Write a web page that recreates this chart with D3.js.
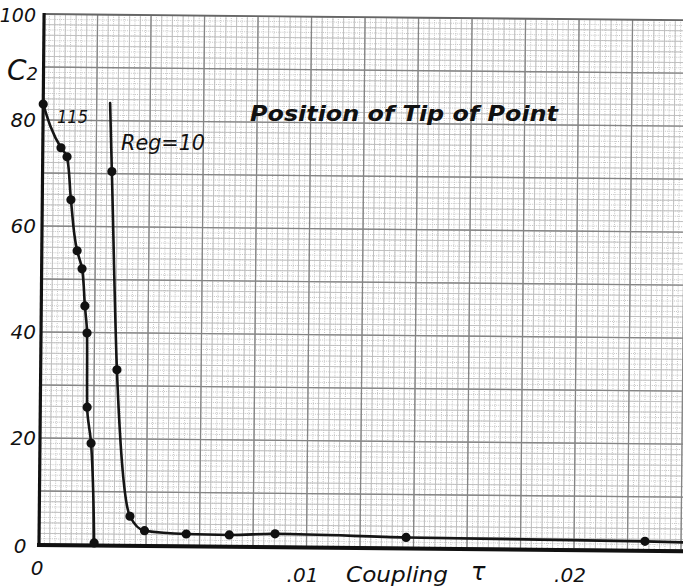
<!DOCTYPE html>
<html><head><meta charset="utf-8">
<script src="https://cdn.jsdelivr.net/npm/d3@7"></script>
<style>
html,body{margin:0;padding:0;background:#fff;}
svg{display:block;}
text{font-family:"DejaVu Sans",sans-serif;font-style:oblique;fill:#111;}
</style></head><body>
<svg id="chart" width="683" height="587"></svg>
<script>
// ---- data ----
const series115Tau = [0, 0.00068, 0.00091, 0.00107, 0.00132, 0.00151, 0.00163, 0.00172, 0.00175, 0.00191, 0.00206];
const series115C2  = [83.0, 74.8, 73.1, 65.0, 55.4, 52.0, 45.0, 39.9, 25.9, 19.1, 0.3];
const series115Marked = [true, true, true, true, true, true, true, true, true, true, true];

const reg10Tau = [0.00250, 0.00259, 0.00285, 0.00339, 0.00394, 0.00550, 0.00711, 0.00882, 0.01372, 0.02265, 0.0250];
const reg10C2  = [83.3, 70.4, 33.0, 5.4, 2.7, 2.15, 2.05, 2.35, 1.9, 1.6, 1.4];
const reg10Marked = [false, true, true, true, true, true, true, true, true, true, false];

const yTickValues = [0, 20, 40, 60, 80, 100];
const yTickLabels = ["0", "20", "40", "60", "80", "100"];
const xTickValues = [0.01, 0.02];
const xTickLabels = [".01", ".02"];
const xTitle = "Coupling";
const xSymbol = "τ";
const yTitle = "C";
const ySub = "2";
const noteTitle = "Position of Tip of Point";
const label115 = "115";
const labelReg = "Reg=10";

// ---- layout ----
const svg = d3.select("#chart");
const ox = 39, oy = 544;
const x = d3.scaleLinear().domain([0, 0.01]).range([ox, ox + 267.5]);
const y = d3.scaleLinear().domain([0, 100]).range([oy, oy - 530]);
const xMax = 0.0262;

const defs = svg.append("defs");
defs.append("clipPath").attr("id", "plotclip")
  .append("rect").attr("x", ox).attr("y", y(100)).attr("width", x(xMax) - ox).attr("height", oy - y(100));

const g = svg.append("g").attr("transform", `rotate(0.55, ${ox}, ${oy})`);
const grid = g.append("g").attr("clip-path", "url(#plotclip)");

// grid lines: fine (dotted), minor, major
const fineX = d3.range(0, 131).map(i => i * 0.0002);
const minorX = d3.range(0, 66).map(i => i * 0.0004);
const majorX = d3.range(0, 14).map(i => i * 0.002);
const fineY = d3.range(0, 101);
const minorY = d3.range(0, 51).map(i => i * 2);
const majorY = d3.range(0, 11).map(i => i * 10);

function vlines(vals, color, w, dash) {
  grid.append("g").selectAll("line").data(vals).join("line")
    .attr("x1", d => x(d)).attr("x2", d => x(d))
    .attr("y1", y(100)).attr("y2", oy)
    .attr("stroke", color).attr("stroke-width", w)
    .attr("stroke-dasharray", dash || null);
}
function hlines(vals, color, w, dash) {
  grid.append("g").selectAll("line").data(vals).join("line")
    .attr("x1", ox).attr("x2", x(xMax))
    .attr("y1", d => y(d)).attr("y2", d => y(d))
    .attr("stroke", color).attr("stroke-width", w)
    .attr("stroke-dasharray", dash || null);
}
vlines(fineX, "#c4c4c4", 1, "1,1.13");
hlines(fineY, "#c4c4c4", 1, "1,1.13");
vlines(minorX, "#bdbdbd", 0.9);
hlines(minorY, "#bdbdbd", 0.9);
vlines(majorX, "#858585", 1.3);
hlines(majorY, "#858585", 1.3);

// frame
g.append("line").attr("x1", ox).attr("x2", x(xMax)).attr("y1", y(100)).attr("y2", y(100))
  .attr("stroke", "#666").attr("stroke-width", 1.8);
g.append("line").attr("x1", ox).attr("x2", ox).attr("y1", y(100) - 1).attr("y2", oy + 2)
  .attr("stroke", "#111").attr("stroke-width", 3.2);
g.append("line").attr("x1", ox - 2).attr("x2", x(xMax)).attr("y1", oy + 1).attr("y2", oy + 1)
  .attr("stroke", "#111").attr("stroke-width", 4);

// curves
const lineY = d3.line().x(d => x(d[0])).y(d => y(d[1])).curve(d3.curveMonotoneY);
const lineX = d3.line().x(d => x(d[0])).y(d => y(d[1])).curve(d3.curveMonotoneX);
const s115 = series115Tau.map((t, i) => [t, series115C2[i], series115Marked[i]]);
const sReg = reg10Tau.map((t, i) => [t, reg10C2[i], reg10Marked[i]]);

[[s115, lineY], [sReg, lineX]].forEach(([s, ln]) => {
  g.append("path").datum(s).attr("d", ln)
    .attr("fill", "none").attr("stroke", "#151515").attr("stroke-width", 2.6)
    .attr("stroke-linejoin", "round").attr("stroke-linecap", "round");
  g.append("g").selectAll("circle").data(s.filter(d => d[2])).join("circle")
    .attr("cx", d => x(d[0])).attr("cy", d => y(d[1])).attr("r", 4.6)
    .attr("fill", "#111");
});

// ---- text ----
svg.selectAll("text.yt").data(yTickValues.filter(v => v > 0)).join("text")
  .attr("class", "yt")
  .attr("x", 36).attr("y", d => y(d) + (d === 100 ? 8 : 7))
  .attr("text-anchor", "end").attr("font-size", d => d === 100 ? 19 : 20)
  .text(d => yTickLabels[yTickValues.indexOf(d)]);
// the two zeros at the origin
svg.append("text").attr("x", 20).attr("y", y(0) + 9).attr("text-anchor", "middle")
  .attr("font-size", 20).text(yTickLabels[0]);
svg.append("text").attr("x", 37).attr("y", y(0) + 31).attr("text-anchor", "middle")
  .attr("font-size", 20).text("0");

svg.selectAll("text.xt").data(xTickValues).join("text")
  .attr("class", "xt")
  .attr("x", d => x(d) - 4).attr("y", 582).attr("text-anchor", "middle")
  .attr("font-size", 20).text((d, i) => xTickLabels[i]);

svg.append("text").attr("x", 346).attr("y", 582).attr("font-size", 21)
  .attr("textLength", 102).attr("lengthAdjust", "spacingAndGlyphs").text(xTitle);
svg.append("text").attr("x", 471).attr("y", 580).attr("font-size", 24)
  .attr("font-style", "normal").text(xSymbol);

const yt = svg.append("text").attr("x", 7).attr("y", 80).attr("font-size", 28);
yt.append("tspan").text(yTitle);
yt.append("tspan").attr("font-size", 18).attr("dy", 0).text(ySub);

svg.append("text").attr("x", 250).attr("y", 121).attr("font-size", 21).attr("font-weight", "bold")
  .attr("textLength", 308).attr("lengthAdjust", "spacingAndGlyphs").text(noteTitle);
svg.append("text").attr("x", 57).attr("y", 123).attr("font-size", 18)
  .attr("textLength", 31).attr("lengthAdjust", "spacingAndGlyphs").text(label115);
svg.append("text").attr("x", 121).attr("y", 150).attr("font-size", 21)
  .attr("textLength", 84).attr("lengthAdjust", "spacingAndGlyphs").text(labelReg);
</script>
</body></html>
